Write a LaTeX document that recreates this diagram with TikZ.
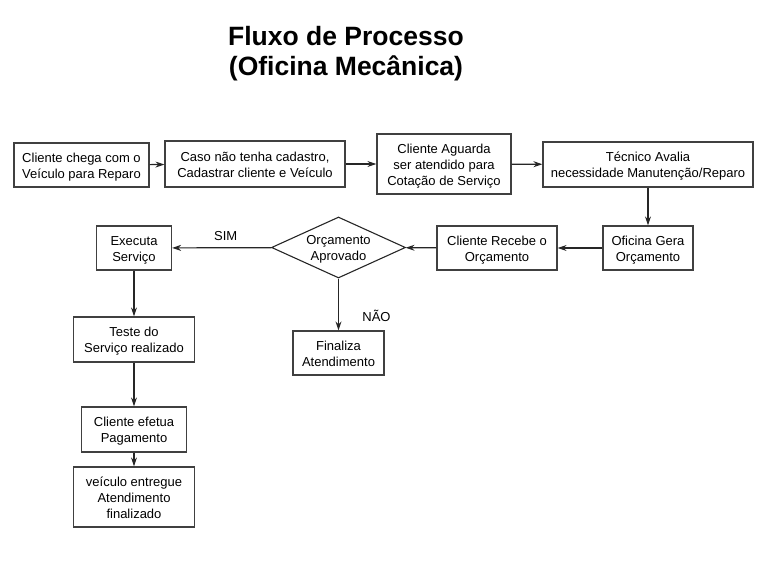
\documentclass[tikz,border=0pt]{standalone}
\usepackage{fontspec}
\setmainfont{Liberation Sans}
\usetikzlibrary{shapes.geometric,arrows.meta}
\newcommand{\mlines}[1]{\begin{tabular}{@{}c@{}}\rule{0pt}{15pt}#1\end{tabular}}
\begin{document}
\begin{tikzpicture}[x=1pt,y=-1pt,
  box/.style={draw=black!75,line width=1.2pt,align=center,inner sep=0pt,font=\fontsize{13}{16}\selectfont},
  dec/.style={draw=black!85,line width=1.1pt,diamond,aspect=2.2,align=center,inner sep=-4pt,font=\fontsize{13}{16}\selectfont},
  conn/.style={draw=black!85,line width=1.2pt,-{Stealth[length=9pt,width=6pt]}},
  lbl/.style={font=\fontsize{13}{15}\selectfont}]
\useasboundingbox (0,0) rectangle (769,565);
\node[font=\bfseries\fontsize{26.5}{30}\selectfont,align=center] (title) at (346,54) {Fluxo de Processo\\(Oficina Mecânica)};
\node[box,minimum width=135pt,minimum height=44pt] (b1) at (81.5,165) {\mlines{Cliente chega com o\\Veículo para Reparo}};
\node[box,minimum width=180pt,minimum height=46pt] (b2) at (255,164) {\mlines{Caso não tenha cadastro,\\Cadastrar cliente e Veículo}};
\node[box,minimum width=134pt,minimum height=60pt] (b3) at (444,164) {\mlines{Cliente Aguarda\\ser atendido para\\Cotação de Serviço}};
\node[box,minimum width=210pt,minimum height=45pt] (b4) at (648,164.5) {\mlines{Técnico Avalia\\necessidade Manutenção/Reparo}};
\node[box,minimum width=90pt,minimum height=44pt] (b5) at (648,248) {\mlines{Oficina Gera\\Orçamento}};
\node[box,minimum width=120pt,minimum height=44pt] (b6) at (497,248) {\mlines{Cliente Recebe o\\Orçamento}};
\node[dec,minimum width=134pt,minimum height=61pt] (d) at (338.5,247.5) {\mlines{Orçamento\\Aprovado}};
\node[box,minimum width=75pt,minimum height=44pt] (b8) at (134,248) {\mlines{Executa\\Serviço}};
\node[box,minimum width=121pt,minimum height=45pt] (b9) at (134,339.5) {\mlines{Teste do\\Serviço realizado}};
\node[box,minimum width=91pt,minimum height=44pt] (b10) at (338.5,353) {\mlines{Finaliza\\Atendimento}};
\node[box,minimum width=105pt,minimum height=45pt] (b11) at (134,429.5) {\mlines{Cliente efetua\\Pagamento}};
\node[box,minimum width=121pt,minimum height=60pt] (b12) at (134,497) {\mlines{veículo entregue\\Atendimento\\finalizado}};
\draw[conn] (b1) -- (b2);
\draw[conn] (b2) -- (b3);
\draw[conn] (b3) -- (b4);
\draw[conn] (b4) -- (b5);
\draw[conn] (b5) -- (b6);
\draw[conn] (b6) -- (d);
\draw[conn] (d) -- node[lbl,above=3pt,pos=0.46] (sim) {SIM} (b8);
\draw[conn] (d) -- node[lbl,right=20pt,pos=0.72] (nao) {NÃO} (b10);
\draw[conn] (b8) -- (b9);
\draw[conn] (b9) -- (b11);
\draw[conn] (b11) -- (b12);
\end{tikzpicture}
\end{document}
